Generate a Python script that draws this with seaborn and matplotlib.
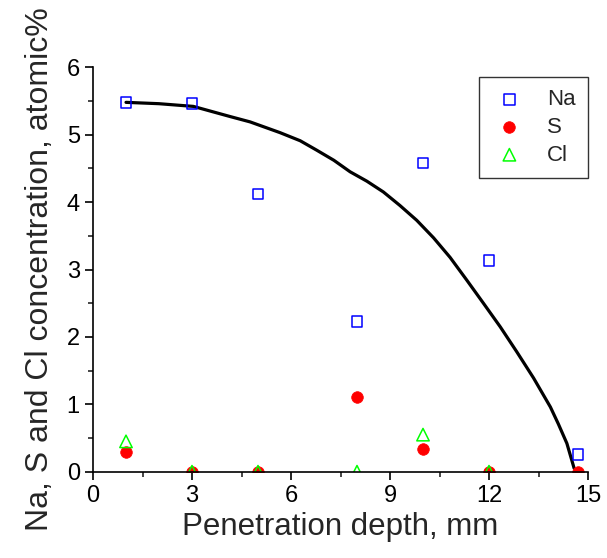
import matplotlib
matplotlib.use("Agg")
import matplotlib.pyplot as plt
import seaborn as sns
import pandas as pd
from matplotlib.ticker import MultipleLocator

# Data
depth = [1, 3, 5, 8, 10, 12, 14.7]
na = [5.48, 5.46, 4.12, 2.23, 4.58, 3.13, 0.25]
s_depth = [1, 3, 5, 8, 10, 12, 14.7]
s_vals = [0.29, 0.0, 0.0, 1.11, 0.34, 0.0, 0.0]
cl_depth = [1, 3, 5, 8, 10, 12]
cl_vals = [0.45, 0.0, 0.0, 0.0, 0.55, 0.0]

curve_x = [1.0, 2.0, 3.04, 4.15, 4.76, 5.67, 6.28, 6.78, 7.30, 7.79, 8.30, 8.80,
           9.30, 9.81, 10.32, 10.82, 11.33, 11.83, 12.34, 12.84, 13.35, 13.86,
           14.10, 14.36, 14.58]
curve_y = [5.48, 5.46, 5.42, 5.27, 5.19, 5.03, 4.91, 4.77, 4.62, 4.45, 4.31, 4.15,
           3.95, 3.73, 3.47, 3.18, 2.84, 2.50, 2.15, 1.78, 1.39, 0.96,
           0.71, 0.42, 0.05]

x_ticks = [0, 3, 6, 9, 12, 15]
y_ticks = [0, 1, 2, 3, 4, 5, 6]

sns.set_style("ticks")
plt.rcParams['font.family'] = ['Liberation Sans', 'DejaVu Sans']

fig = plt.figure(figsize=(6.07, 5.58), dpi=100)
ax = fig.add_axes([93 / 607, 86.3 / 558, 495 / 607, 404.4 / 558])

curve_df = pd.DataFrame({"x": curve_x, "y": curve_y})
sns.lineplot(data=curve_df, x="x", y="y", sort=False, color="black", lw=2.3,
             ax=ax, zorder=2, solid_joinstyle="round", solid_capstyle="round")

na_df = pd.DataFrame({"x": depth, "y": na})
s_df = pd.DataFrame({"x": s_depth, "y": s_vals})
cl_df = pd.DataFrame({"x": cl_depth, "y": cl_vals})

sns.scatterplot(data=na_df, x="x", y="y", marker="s", s=60,
                facecolor="none", edgecolor="#0000FF", linewidth=1.1,
                label="Na", ax=ax, zorder=3)
sns.scatterplot(data=s_df, x="x", y="y", marker="o", s=70,
                color="#FF0000", edgecolor="#FF0000", linewidth=0.5,
                label="S", ax=ax, zorder=3)
sns.scatterplot(data=cl_df, x="x", y="y", marker="^", s=80,
                facecolor="none", edgecolor="#00FF00", linewidth=1.1,
                label="Cl", ax=ax, zorder=3)

ax.set_xlim(0, 15)
ax.set_ylim(0, 6)
ax.set_xticks(x_ticks)
ax.set_yticks(y_ticks)
ax.xaxis.set_minor_locator(MultipleLocator(1.5))
ax.yaxis.set_minor_locator(MultipleLocator(0.5))
ax.tick_params(axis="both", which="major", direction="out", length=6,
               width=1.2, labelsize=17, colors="black")
ax.tick_params(axis="both", which="minor", direction="out", length=3.5,
               width=1.2)
for side in ["top", "right"]:
    ax.spines[side].set_visible(False)
for side in ["left", "bottom"]:
    ax.spines[side].set_linewidth(1.2)
    ax.spines[side].set_color("black")
    ax.spines[side].set_zorder(4)

ax.set_xlabel("Penetration depth, mm", fontsize=22.5, labelpad=4)
ax.set_ylabel("Na, S and Cl concentration, atomic%", fontsize=23, labelpad=8)

leg = ax.legend(loc="upper right", bbox_to_anchor=(1.0, 0.976),
                borderaxespad=0, fontsize=16, frameon=True, fancybox=False,
                edgecolor="black", handletextpad=0.9, borderpad=0.55,
                labelspacing=0.3, handlelength=1.6)
leg.get_frame().set_linewidth(1.0)

fig.savefig("out.png", dpi=100)
